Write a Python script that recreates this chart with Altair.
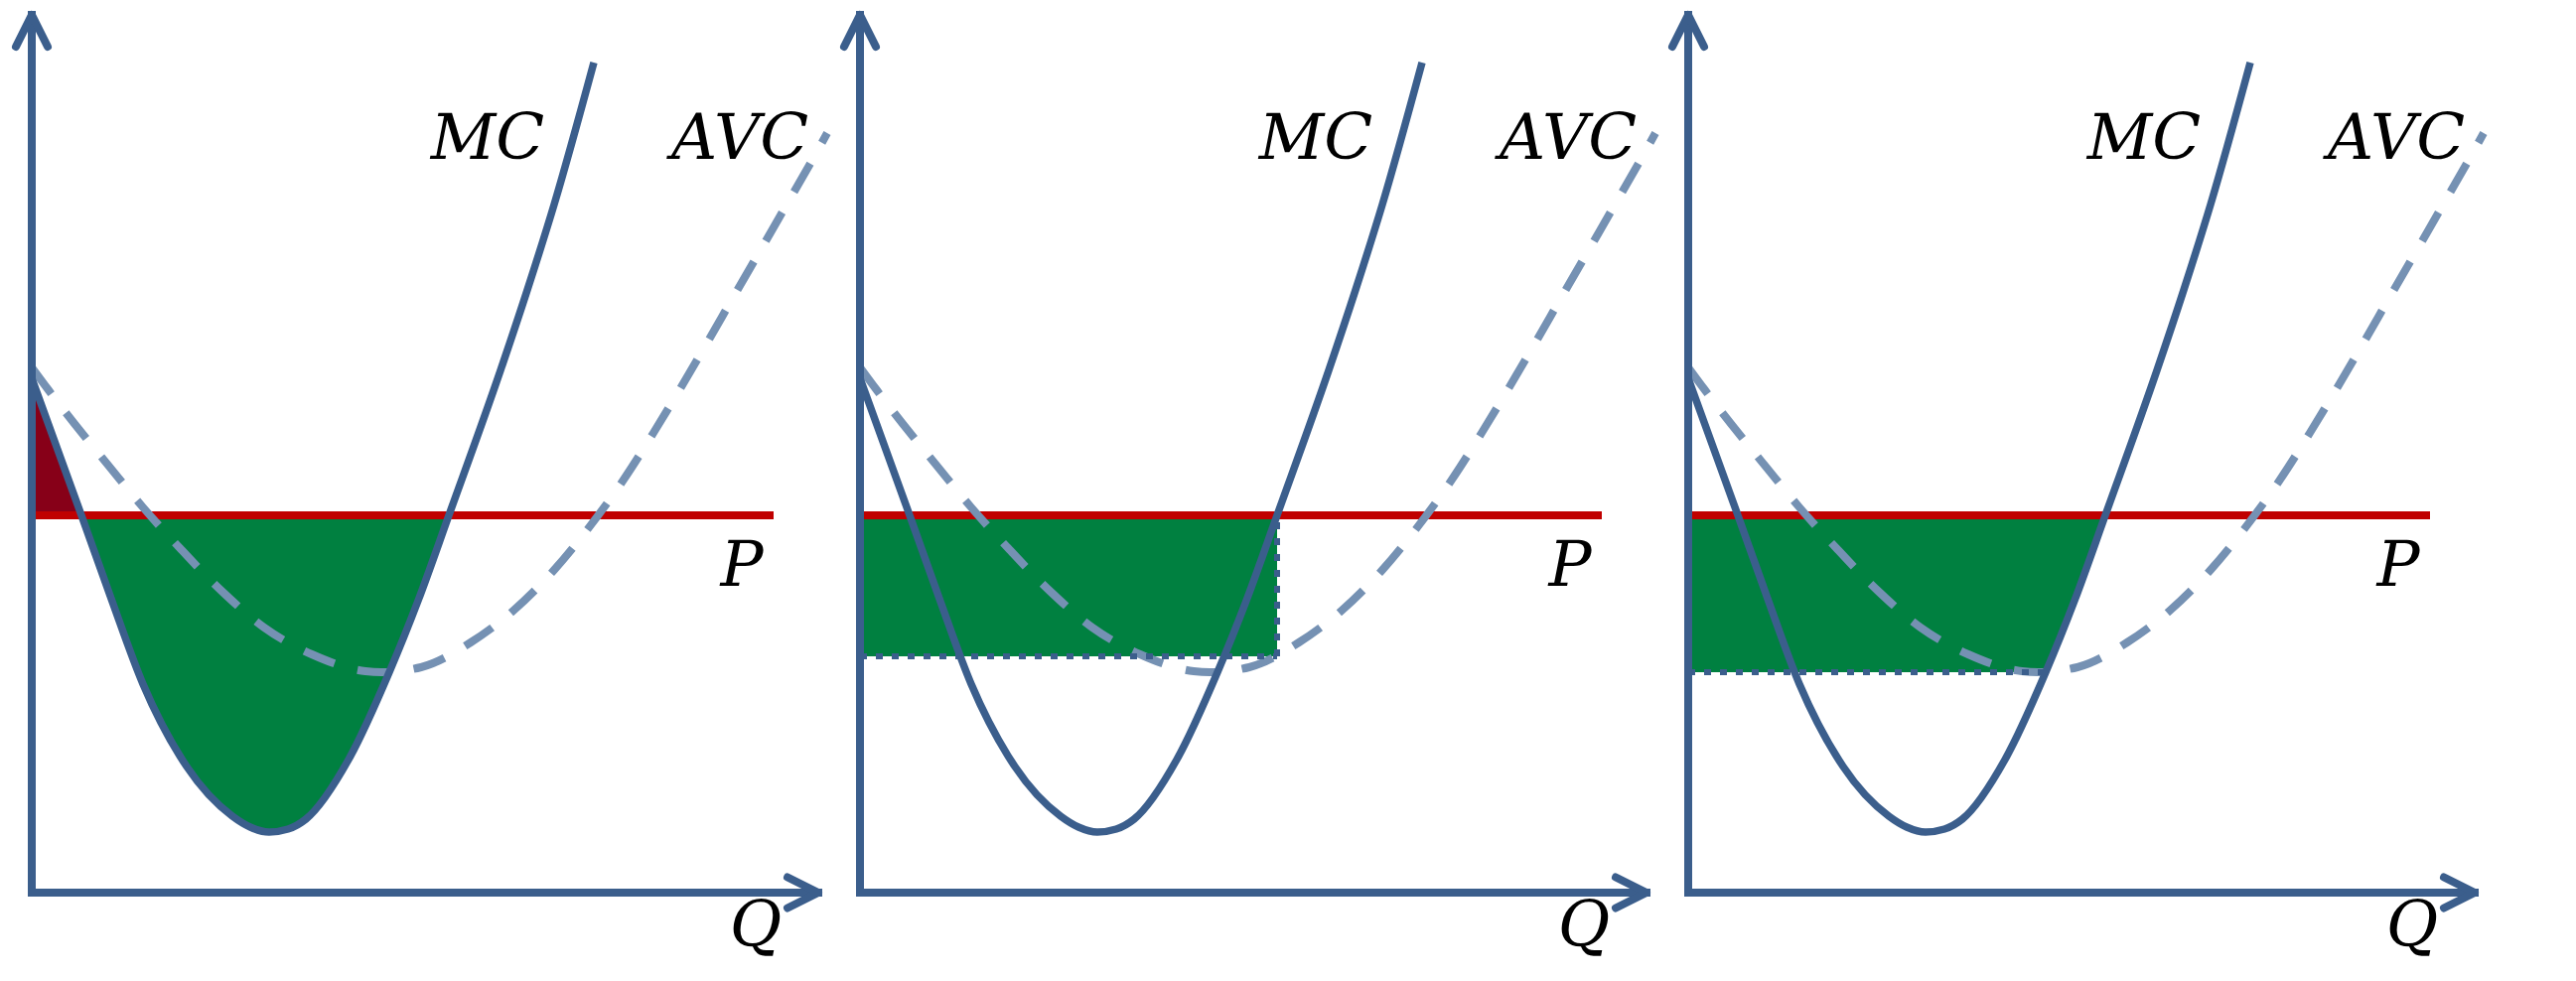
import altair as alt
import pandas as pd

# ---- curves (Q in px from the price axis, value in px above the Q axis)
mc_q = [0, 25, 50, 80, 112, 156, 202, 220, 239, 258, 276, 319, 360, 389, 420, 472, 499, 526, 566]
mc_v = [518, 449, 380, 296, 210, 127, 77, 66, 61, 64, 74, 134, 222, 294, 380, 526, 607, 693, 836]

avc_q = [0, 17, 44, 79, 112, 151, 191, 234, 282, 336, 352, 392, 442, 486, 526, 559, 596,
         626, 652, 679, 706, 736, 762, 786, 801]
avc_v = [529, 506, 471, 428, 388, 345, 304, 267, 240, 223, 222, 227, 252, 285, 325, 365, 416,
         463, 506, 552, 599, 651, 696, 738, 765]

price = 380
q_low = 50            # MC = P on the falling branch
q_star = 420          # MC = P on the rising branch
q_mc_min = 239
avc_at_qstar = 238
avc_min = 222
q_mc_at_avcmin = 360
p_line_end = 747
q_axis_end = 792
v_axis_end = 884

label_text = ["MC", "AVC", "P", "Q"]
label_q = [459, 713, 715, 729]
label_v = [758, 758, 328, -35]

x_domain = [-23, 811]
y_domain = [-86, 889]
panel_w = 834
panel_h = 975

AXIS_COL = "#3B5E8C"
MC_COL = "#3B5E8C"
AVC_COL = "#7591B3"
P_COL = "#C00000"
GREEN = "#008040"
DARK_RED = "#870018"

xs = alt.Scale(domain=x_domain, nice=False, zero=False)
ys = alt.Scale(domain=y_domain, nice=False, zero=False)


def X(f, **kw):
    return alt.X(f, type="quantitative", scale=xs, axis=None, **kw)


def Y(f, **kw):
    return alt.Y(f, type="quantitative", scale=ys, axis=None, **kw)


mc_df = pd.DataFrame({"q": mc_q, "v": mc_v})
avc_df = pd.DataFrame({"q": avc_q, "v": avc_v})


def common_layers():
    p_df = pd.DataFrame({"q0": [0], "q1": [p_line_end], "v": [price]})
    p_line = alt.Chart(p_df).mark_rule(color=P_COL, strokeWidth=8).encode(
        x=X("q0"), x2=alt.X2("q1"), y=Y("v"))
    avc = alt.Chart(avc_df).mark_line(color=AVC_COL, strokeWidth=8, strokeDash=[33, 24],
                                      interpolate="monotone", strokeCap="butt").encode(
        x=X("q"), y=Y("v"), order="q:Q")
    mc = alt.Chart(mc_df).mark_line(color=MC_COL, strokeWidth=7.5, interpolate="monotone").encode(
        x=X("q"), y=Y("v"), order="q:Q")
    ax_df = pd.DataFrame({"q0": [0, 0], "q1": [0, q_axis_end], "v0": [0, 0], "v1": [v_axis_end, 0]})
    axes = alt.Chart(ax_df).mark_rule(color=AXIS_COL, strokeWidth=8, strokeCap="square").encode(
        x=X("q0"), x2=alt.X2("q1"), y=Y("v0"), y2=alt.Y2("v1"))
    arr_x = alt.Chart(pd.DataFrame({"q": [q_axis_end], "v": [0]})).mark_point(
        shape="M -1 -0.5 L 0 0 L -1 0.5", filled=False, size=3844, strokeWidth=8,
        strokeCap="round", strokeJoin="round", color=AXIS_COL, opacity=1).encode(x=X("q"), y=Y("v"))
    arr_y = alt.Chart(pd.DataFrame({"q": [0], "v": [v_axis_end]})).mark_point(
        shape="M -0.5 1 L 0 0 L 0.5 1", filled=False, size=4096, strokeWidth=8,
        strokeCap="round", strokeJoin="round", color=AXIS_COL, opacity=1).encode(x=X("q"), y=Y("v"))
    lab_df = pd.DataFrame({"q": label_q, "v": label_v, "t": label_text})
    labels = alt.Chart(lab_df).mark_text(font="DejaVu Serif", fontStyle="italic", fontSize=64,
                                         align="center", baseline="middle", color="black").encode(
        x=X("q"), y=Y("v"), text="t:N")
    return p_line, avc, mc, axes, arr_x, arr_y, labels


def panel(fills, extras):
    p_line, avc, mc, axes, arr_x, arr_y, labels = common_layers()
    layers = list(fills) + [p_line, avc, mc] + list(extras) + [axes, arr_x, arr_y, labels]
    return alt.layer(*layers).properties(width=panel_w, height=panel_h)


# Panel 1: area between P and MC, plus the dark red triangle
g1 = mc_df[(mc_df.q >= q_low) & (mc_df.q <= q_star)].reset_index(drop=True)
g1["p"] = price
r1 = mc_df[mc_df.q <= q_low].reset_index(drop=True)
r1["p"] = price
green1 = alt.Chart(g1).mark_area(color=GREEN, opacity=1, interpolate="monotone").encode(
    x=X("q"), y=Y("v", stack=False), y2=alt.Y2("p"))
red1 = alt.Chart(r1).mark_area(color=DARK_RED, opacity=1, interpolate="monotone").encode(
    x=X("q"), y=Y("v", stack=False), y2=alt.Y2("p"))
panel1 = panel([green1, red1], [])

# Panel 2: rectangle up to q*, down to AVC(q*)
rect_df = pd.DataFrame({"q0": [0], "q1": [q_star], "v0": [avc_at_qstar], "v1": [price]})
green2 = alt.Chart(rect_df).mark_rect(color=GREEN, opacity=1).encode(
    x=X("q0"), x2=alt.X2("q1"), y=Y("v0"), y2=alt.Y2("v1"))
dot2_df = pd.DataFrame({"q0": [0, q_star], "q1": [q_star, q_star],
                        "v0": [avc_at_qstar, avc_at_qstar], "v1": [avc_at_qstar, price]})
dots2 = alt.Chart(dot2_df).mark_rule(color=AXIS_COL, strokeWidth=6, strokeDash=[7, 9]).encode(
    x=X("q0"), x2=alt.X2("q1"), y=Y("v0"), y2=alt.Y2("v1"))
panel2 = panel([green2], [dots2])

# Panel 3: from the price axis to the rising MC branch, between min AVC and P
g3 = mc_df[(mc_df.q > q_mc_min) & (mc_df.v >= avc_min) & (mc_df.v <= price)].reset_index(drop=True)
g3["z"] = 0
green3 = alt.Chart(g3).mark_area(color=GREEN, opacity=1, orient="horizontal",
                                 interpolate="monotone").encode(
    y=Y("v"), x=X("q", stack=False), x2=alt.X2("z"))
dot3_df = pd.DataFrame({"q0": [0], "q1": [q_mc_at_avcmin], "v": [avc_min]})
dots3 = alt.Chart(dot3_df).mark_rule(color=AXIS_COL, strokeWidth=6, strokeDash=[7, 9]).encode(
    x=X("q0"), x2=alt.X2("q1"), y=Y("v"))
panel3 = panel([green3], [dots3])

chart = alt.hconcat(panel1, panel2, panel3, spacing=0, bounds="flush").properties(
    padding=0).configure_view(stroke="transparent")

chart.save("out.html", embed_options={"renderer": "svg", "actions": False})
